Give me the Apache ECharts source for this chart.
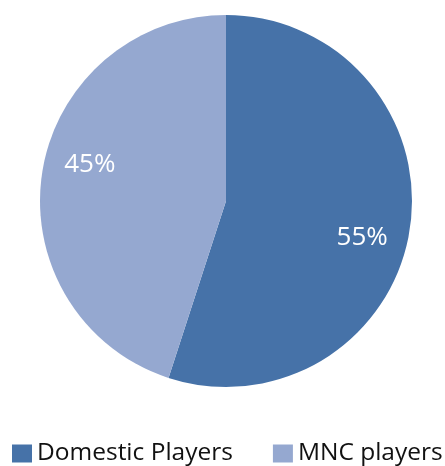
<!DOCTYPE html>
<html>
<head>
<meta charset="utf-8">
<script src="https://cdn.jsdelivr.net/npm/echarts@6/dist/echarts.min.js"></script>
<style>
  html, body { margin: 0; padding: 0; background: #fff; }
  #chart { width: 445px; height: 466px; }
</style>
</head>
<body>
<div id="chart"></div>
<script>
// chart data
const categories = ["Domestic Players", "MNC players"];
const shares = [55, 45];
const colors = ["#4672A8", "#95A8D0"];

const chart = echarts.init(document.getElementById("chart"));

const pieData = categories.map((name, i) => ({ name, value: shares[i] }));

const option = {
  animation: false,
  color: colors,
  legend: {
    data: categories,
    orient: "horizontal",
    bottom: 0,
    left: 12,
    padding: 0,
    width: 440,
    itemWidth: 20,
    itemHeight: 18,
    itemGap: 40,
    icon: "rect",
    textStyle: { fontFamily: "Open Sans", fontSize: 24.5, color: "#111" },
  },
  series: [
    {
      // the visible pie
      type: "pie",
      center: [226, 201],
      radius: [0, 186],
      startAngle: 90,
      clockwise: true,
      silent: true,
      label: { show: false },
      labelLine: { show: false },
      data: pieData,
    },
    {
      // transparent copy used only to place the percent labels
      type: "pie",
      center: [226, 201],
      radius: [0, 276],
      startAngle: 84,
      clockwise: true,
      silent: true,
      itemStyle: { color: "transparent" },
      label: {
        show: true,
        position: "inside",
        formatter: "{d}%",
        color: "#fff",
        fontFamily: "Open Sans",
        fontSize: 26,
      },
      labelLine: { show: false },
      data: pieData,
    },
  ],
};

chart.setOption(option);
</script>
</body>
</html>
